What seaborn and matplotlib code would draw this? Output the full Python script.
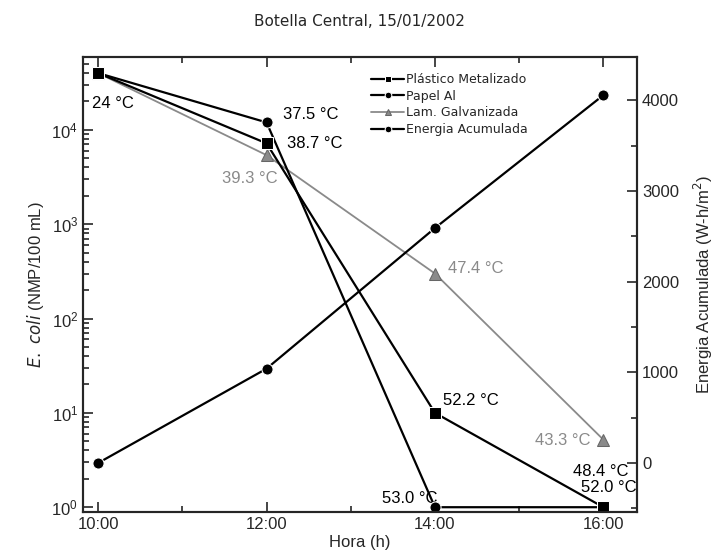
import numpy as np
import pandas as pd
import matplotlib.pyplot as plt
import matplotlib.ticker as mticker
import seaborn as sns

# values
horas = [10, 12, 14, 16]
hora_labels = ["10:00", "12:00", "14:00", "16:00"]
plastico = [40000, 7200, 10, 1]
papel = [40000, 12000, 1, 1]
lamina = [40000, 5400, 300, 5.2]
energia = [0, 1040, 2590, 4055]

sns.set_style("ticks")
plt.rcParams["font.family"] = ["Liberation Sans", "DejaVu Sans"]

fig = plt.figure(figsize=(7.19, 5.55), dpi=100)
ax = fig.add_axes([0.1154, 0.0775, 0.7706, 0.8195])
ax2 = ax.twinx()

df = pd.DataFrame({"Hora": horas, "plastico": plastico, "papel": papel,
                   "lamina": lamina, "energia": energia})

sns.lineplot(data=df, x="Hora", y="plastico", ax=ax, color="black", lw=1.6,
             marker="s", markersize=8, label="Plástico Metalizado", legend=False,
             zorder=5)
sns.lineplot(data=df, x="Hora", y="papel", ax=ax, color="black", lw=1.6,
             marker="o", markersize=8, label="Papel Al", legend=False, zorder=4)
sns.lineplot(data=df, x="Hora", y="lamina", ax=ax, color="#8a8a8a", lw=1.3,
             marker="^", markersize=8, markeredgecolor="#666666",
             label="Lam. Galvanizada", legend=False, zorder=3)
sns.lineplot(data=df, x="Hora", y="energia", ax=ax2, color="black", lw=1.6,
             marker="o", markersize=8, label="Energia Acumulada", legend=False)

ax.set_yscale("log")
ax.set_ylim(0.89, 5.9e4)
ax.set_xlim(9.82, 16.4)
ax.set_xticks(horas)
ax.set_xticklabels(hora_labels)
ax.xaxis.set_minor_locator(mticker.MultipleLocator(1))
ax.yaxis.set_major_locator(mticker.LogLocator(base=10, numticks=10))
ax.yaxis.set_minor_locator(mticker.LogLocator(base=10, subs=np.arange(2, 10), numticks=10))
ax.yaxis.set_minor_formatter(mticker.NullFormatter())

ax2.set_ylim(-540, 4474)
ax2.set_yticks([0, 1000, 2000, 3000, 4000])
ax2.yaxis.set_minor_locator(mticker.MultipleLocator(500))

ax.tick_params(which="both", direction="in", top=True, labelsize=12, width=1.2)
ax.tick_params(which="major", length=7)
ax.tick_params(which="minor", length=4)
ax2.tick_params(which="both", direction="in", labelsize=12, width=1.2)
ax2.tick_params(which="major", length=7)
ax2.tick_params(which="minor", length=4)
for a in (ax, ax2):
    for s in a.spines.values():
        s.set_linewidth(1.5)
        s.set_visible(True)

ax.set_xlabel("Hora (h)", fontsize=12, labelpad=2)
ax.set_ylabel("$\\it{E.\\ coli}$ (NMP/100 mL)", fontsize=12)
ax2.set_ylabel("Energia Acumulada (W-h/m$^2$)", fontsize=12, labelpad=9)
fig.suptitle("Botella Central, 15/01/2002", y=0.975, fontsize=11,
             family="DejaVu Sans", x=0.5)

# temperature annotations (offsets in points)
ann = [
    (10, 40000, "24 °C", (-4.3, -21.6), "black"),
    (12, 12000, "37.5 °C", (11.5, 5.8), "black"),
    (12, 7200, "38.7 °C", (15, 0), "black"),
    (12, 5400, "39.3 °C", (-32, -16.5), "#8a8a8a"),
    (14, 300, "47.4 °C", (9.4, 3.6), "#8a8a8a"),
    (14, 10, "52.2 °C", (5.8, 8.6), "black"),
    (16, 5.2, "43.3 °C", (-49, -0.7), "#8a8a8a"),
    (16, 1, "48.4 °C", (-21.6, 26), "black"),
    (16, 1, "52.0 °C", (-15.8, 14.4), "black"),
    (14, 1, "53.0 °C", (-38, 6.5), "black"),
]
for x, y, t, off, c in ann:
    ax.annotate(t, (x, y), xytext=off, textcoords="offset points",
                fontsize=12, color=c, va="center", ha="left")

h1, l1 = ax.get_legend_handles_labels()
h2, l2 = ax2.get_legend_handles_labels()
ax.legend(h1 + h2, l1 + l2, loc="upper left", bbox_to_anchor=(0.5, 0.99),
          frameon=False, handlelength=2.6, markerscale=0.6,
          labelspacing=0.3, handletextpad=0.2, prop={"family": "DejaVu Sans", "size": 9})

fig.savefig("out.png", dpi=100)
